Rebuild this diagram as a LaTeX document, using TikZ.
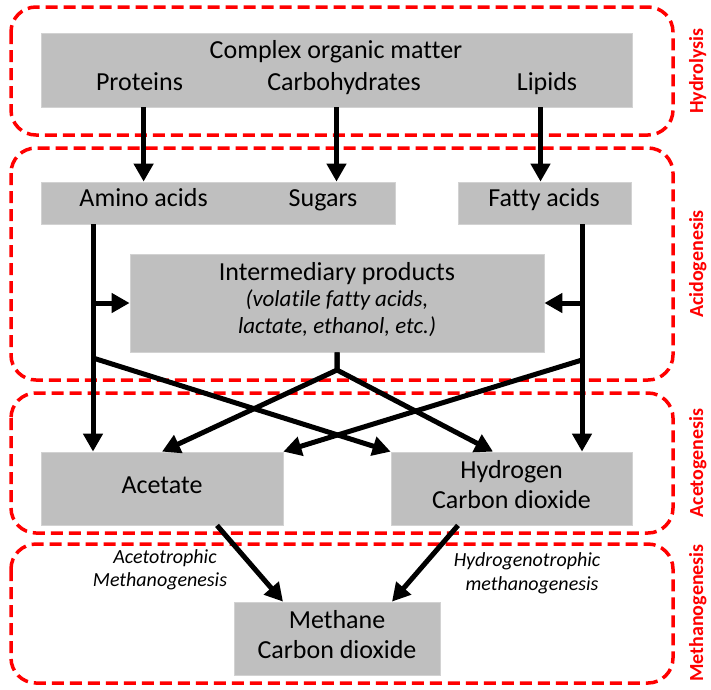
\documentclass[tikz,border=0pt]{standalone}
\usepackage{fontspec}
\setmainfont{Carlito}[Ligatures=NoCommon]
\usetikzlibrary{arrows.meta,calc}
\definecolor{boxgray}{RGB}{191,191,191}
\definecolor{boxedge}{RGB}{210,210,210}
\definecolor{phasered}{RGB}{255,0,0}
\begin{document}
\begin{tikzpicture}[x=1pt,y=-1pt,
  gbox/.style={fill=boxgray,draw=boxedge,line width=0.8pt,inner sep=0pt},
  phase/.style={draw=phasered,line width=3.5pt,dash pattern=on 12pt off 6pt,rounded corners=25pt},
  lbl/.style={inner sep=0pt,text height=0.644em,text depth=0pt,font=\fontsize{26}{30}\selectfont},
  ilbl/.style={inner sep=0pt,text height=0.644em,text depth=0pt,font=\fontsize{23}{27}\selectfont\itshape},
  slbl/.style={inner sep=0pt,text height=0.644em,text depth=0pt,font=\fontsize{20}{24}\selectfont\itshape},
  plbl/.style={inner sep=0pt,text height=0.644em,text depth=0pt,rotate=90,text=phasered,font=\fontsize{20}{24}\selectfont\bfseries},
  arr/.style={line width=5pt,-{Triangle[length=18pt,width=19pt]}}]
\useasboundingbox (0,0) rectangle (711,689);
\fill[white] (0,0) rectangle (711,689);

% phase frames
\draw[phase] (11,7) rectangle (673,135);
\draw[phase] (11,148) rectangle (673,380);
\draw[phase] (11,393) rectangle (673,533);
\draw[phase] (11,544) rectangle (673,683);

\node[plbl] (phhyd) at (700,71) {Hydrolysis};
\node[plbl] (phacid) at (700,264) {Acidogenesis};
\node[plbl] (phacet) at (700,463) {Acetogenesis};
\node[plbl] (phmeth) at (700,613) {Methanogenesis};

% gray boxes
\node[gbox,minimum width=591pt,minimum height=74pt] (complexbox) at (336.5,70) {};
\node[gbox,minimum width=354pt,minimum height=42pt] (aminobox) at (218,203) {};
\node[gbox,minimum width=173pt,minimum height=42pt] (fattybox) at (544.5,203) {};
\node[gbox,minimum width=414pt,minimum height=98pt] (interbox) at (337,303) {};
\node[gbox,minimum width=242pt,minimum height=73pt] (acetatebox) at (162,488.5) {};
\node[gbox,minimum width=241pt,minimum height=73pt] (hydrobox) at (511.5,488.5) {};
\node[gbox,minimum width=206pt,minimum height=73pt] (methanebox) at (337,638.5) {};

% texts
\node[lbl] (title) at (336,55) {Complex organic matter};
\node[lbl] (proteins) at (139.5,87) {Proteins};
\node[lbl] (carbs) at (344,87) {Carbohydrates};
\node[lbl] (lipids) at (547,87) {Lipids};
\node[lbl] (amino) at (143.6,203) {Amino acids};
\node[lbl] (sugars) at (323,203) {Sugars};
\node[lbl] (fatty) at (544,203) {Fatty acids};
\node[lbl] (inter1) at (337,277) {Intermediary products};
\node[ilbl] (inter2) at (337,303) {(volatile fatty acids,};
\node[ilbl] (inter3) at (337,330) {lactate, ethanol, etc.)};
\node[lbl] (acetate) at (162,490) {Acetate};
\node[lbl] (hydro1) at (511.5,475) {Hydrogen};
\node[lbl] (hydro2) at (511.5,505) {Carbon dioxide};
\node[lbl] (meth1) at (337,625) {Methane};
\node[lbl] (meth2) at (337,655) {Carbon dioxide};
\node[slbl] (aceto1) at (165,560) {Acetotrophic};
\node[slbl] (aceto2) at (160,583) {Methanogenesis};
\node[slbl] (hydrot1) at (527,563) {Hydrogenotrophic};
\node[slbl] (hydrot2) at (532,587) {methanogenesis};

% helper coordinates
\coordinate (xl) at (93,0);
\coordinate (xr) at (582,0);
\coordinate (sl) at (93,358);
\coordinate (sr) at (582,360);
\coordinate (split) at (337,370);

% arrows hydrolysis -> acidogenesis
\draw[arr] (complexbox.south -| amino) -- (aminobox.north -| amino);
\draw[arr] (complexbox.south) -- (complexbox.south |- aminobox.north);
\draw[arr] ($(complexbox.south -| fattybox)+(-4,0)$) -- ($(fattybox.north)+(-4,0)$);

% vertical lines
\draw[arr] (aminobox.south -| xl) -- (acetatebox.north -| xl);
\draw[arr] (fattybox.south -| xr) -- (hydrobox.north -| xr);
\draw[arr] (interbox.west -| xl) -- (interbox.west);
\draw[arr] (interbox.east -| xr) -- (interbox.east);

% crossing diagonals
\draw[arr] (sl) -- (hydrobox.north west);
\draw[arr] (sr) -- (acetatebox.north east);
\draw[arr] (interbox.south) -- (split) -- (acetatebox.north);
\draw[arr] (interbox.south) -- (split) -- ($(hydrobox.north)+(-18.5,0)$);

% methanogenesis
\draw[arr] ($(acetatebox.south)+(55,0)$) -- ($(methanebox.north)+(-54,0)$);
\draw[arr] ($(hydrobox.south)+(-53.5,0)$) -- ($(methanebox.north)+(55,0)$);
\end{tikzpicture}
\end{document}
